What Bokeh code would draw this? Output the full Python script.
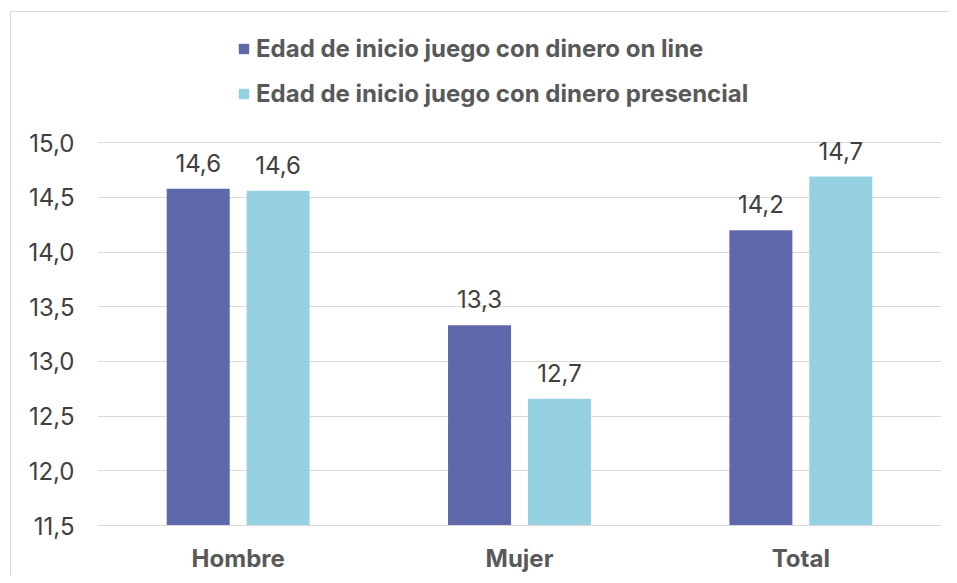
from bokeh.plotting import figure
from bokeh.models import ColumnDataSource, FactorRange, Legend, LegendItem, FixedTicker, CustomJSTickFormatter
from bokeh.transform import dodge
from bokeh.core.properties import value
from bokeh.embed import file_html
from bokeh.resources import INLINE

categories = ["Hombre", "Mujer", "Total"]
series_names = ["Edad de inicio juego con dinero on line", "Edad de inicio juego con dinero presencial"]
online = [14.58, 13.33, 14.20]
presencial = [14.56, 12.66, 14.69]
y_ticks = [11.5, 12.0, 12.5, 13.0, 13.5, 14.0, 14.5, 15.0]

colors = ["#5F68AB", "#96D1E2"]
FONT = "Inter"
FS = "24px"

def fmt(v):
    return f"{v:.1f}".replace(".", ",")

src = ColumnDataSource(dict(
    cat=categories,
    online=online,
    presencial=presencial,
    online_lbl=[fmt(v) for v in online],
    presencial_lbl=[fmt(v) for v in presencial],
))

p = figure(
    x_range=FactorRange(factors=categories, range_padding=0),
    y_range=(11.5, 16.3),
    width=949, height=575,
    output_backend="svg", toolbar_location=None,
    min_border_left=97, min_border_right=8, min_border_top=0, min_border_bottom=50,
)
p.styles = {
    "background": "linear-gradient(#d9d9d9,#d9d9d9) 10px 11px / 1px 100% no-repeat, "
                  "linear-gradient(#d9d9d9,#d9d9d9) 10px 11px / 100% 1px no-repeat, #ffffff",
}
p.outline_line_color = None
p.background_fill_alpha = 0
p.border_fill_alpha = 0

r1 = p.vbar(x=dodge("cat", -0.142, range=p.x_range), top="online", bottom=11.5, width=0.224,
            source=src, fill_color=colors[0], line_color=None)
r2 = p.vbar(x=dodge("cat", 0.142, range=p.x_range), top="presencial", bottom=11.5, width=0.224,
            source=src, fill_color=colors[1], line_color=None)

for off, col, lab in [(-0.142, "online", "online_lbl"), (0.142, "presencial", "presencial_lbl")]:
    p.text(x=dodge("cat", off, range=p.x_range), y=col, text=lab, source=src,
           text_align="center", text_baseline="alphabetic", y_offset=-26,
           text_font=value(FONT), text_font_size=FS, text_color="#404040")

p.yaxis.ticker = FixedTicker(ticks=y_ticks)
p.yaxis.formatter = CustomJSTickFormatter(code="return tick.toFixed(1).replace('.', ',');")
p.yaxis.axis_line_color = None
p.yaxis.major_tick_line_color = None
p.yaxis.minor_tick_line_color = None
p.yaxis.major_tick_out = 0
p.yaxis.major_tick_in = 0
p.yaxis.minor_tick_out = 0
p.yaxis.major_label_standoff = 23
p.yaxis.major_label_text_font = FONT
p.yaxis.major_label_text_font_size = FS
p.yaxis.major_label_text_color = "#404040"

p.xaxis.axis_line_color = "#d9d9d9"
p.xaxis.major_tick_line_color = None
p.xaxis.minor_tick_line_color = None
p.xaxis.major_tick_out = 0
p.xaxis.major_tick_in = 0
p.xaxis.minor_tick_out = 0
p.xaxis.major_label_standoff = 18
p.xaxis.major_label_text_font = FONT
p.xaxis.major_label_text_font_size = FS
p.xaxis.major_label_text_font_style = "bold"
p.xaxis.major_label_text_color = "#595959"

p.xgrid.grid_line_color = None
p.ygrid.grid_line_color = "#d9d9d9"
p.ygrid.grid_line_width = 1

legend = Legend(items=[LegendItem(label=series_names[0], renderers=[r1]),
                       LegendItem(label=series_names[1], renderers=[r2])],
                location=(140, 417), orientation="vertical")
legend.border_line_color = None
legend.background_fill_alpha = 0
legend.padding = 0
legend.margin = 0
legend.spacing = 16
legend.glyph_width = 13
legend.glyph_height = 13
legend.label_height = 20
legend.label_standoff = 6
legend.label_text_font = FONT
legend.label_text_font_size = FS
legend.label_text_font_style = "bold"
legend.label_text_color = "#595959"
p.add_layout(legend, "center")

open("out.html", "w").write(file_html(p, INLINE))
